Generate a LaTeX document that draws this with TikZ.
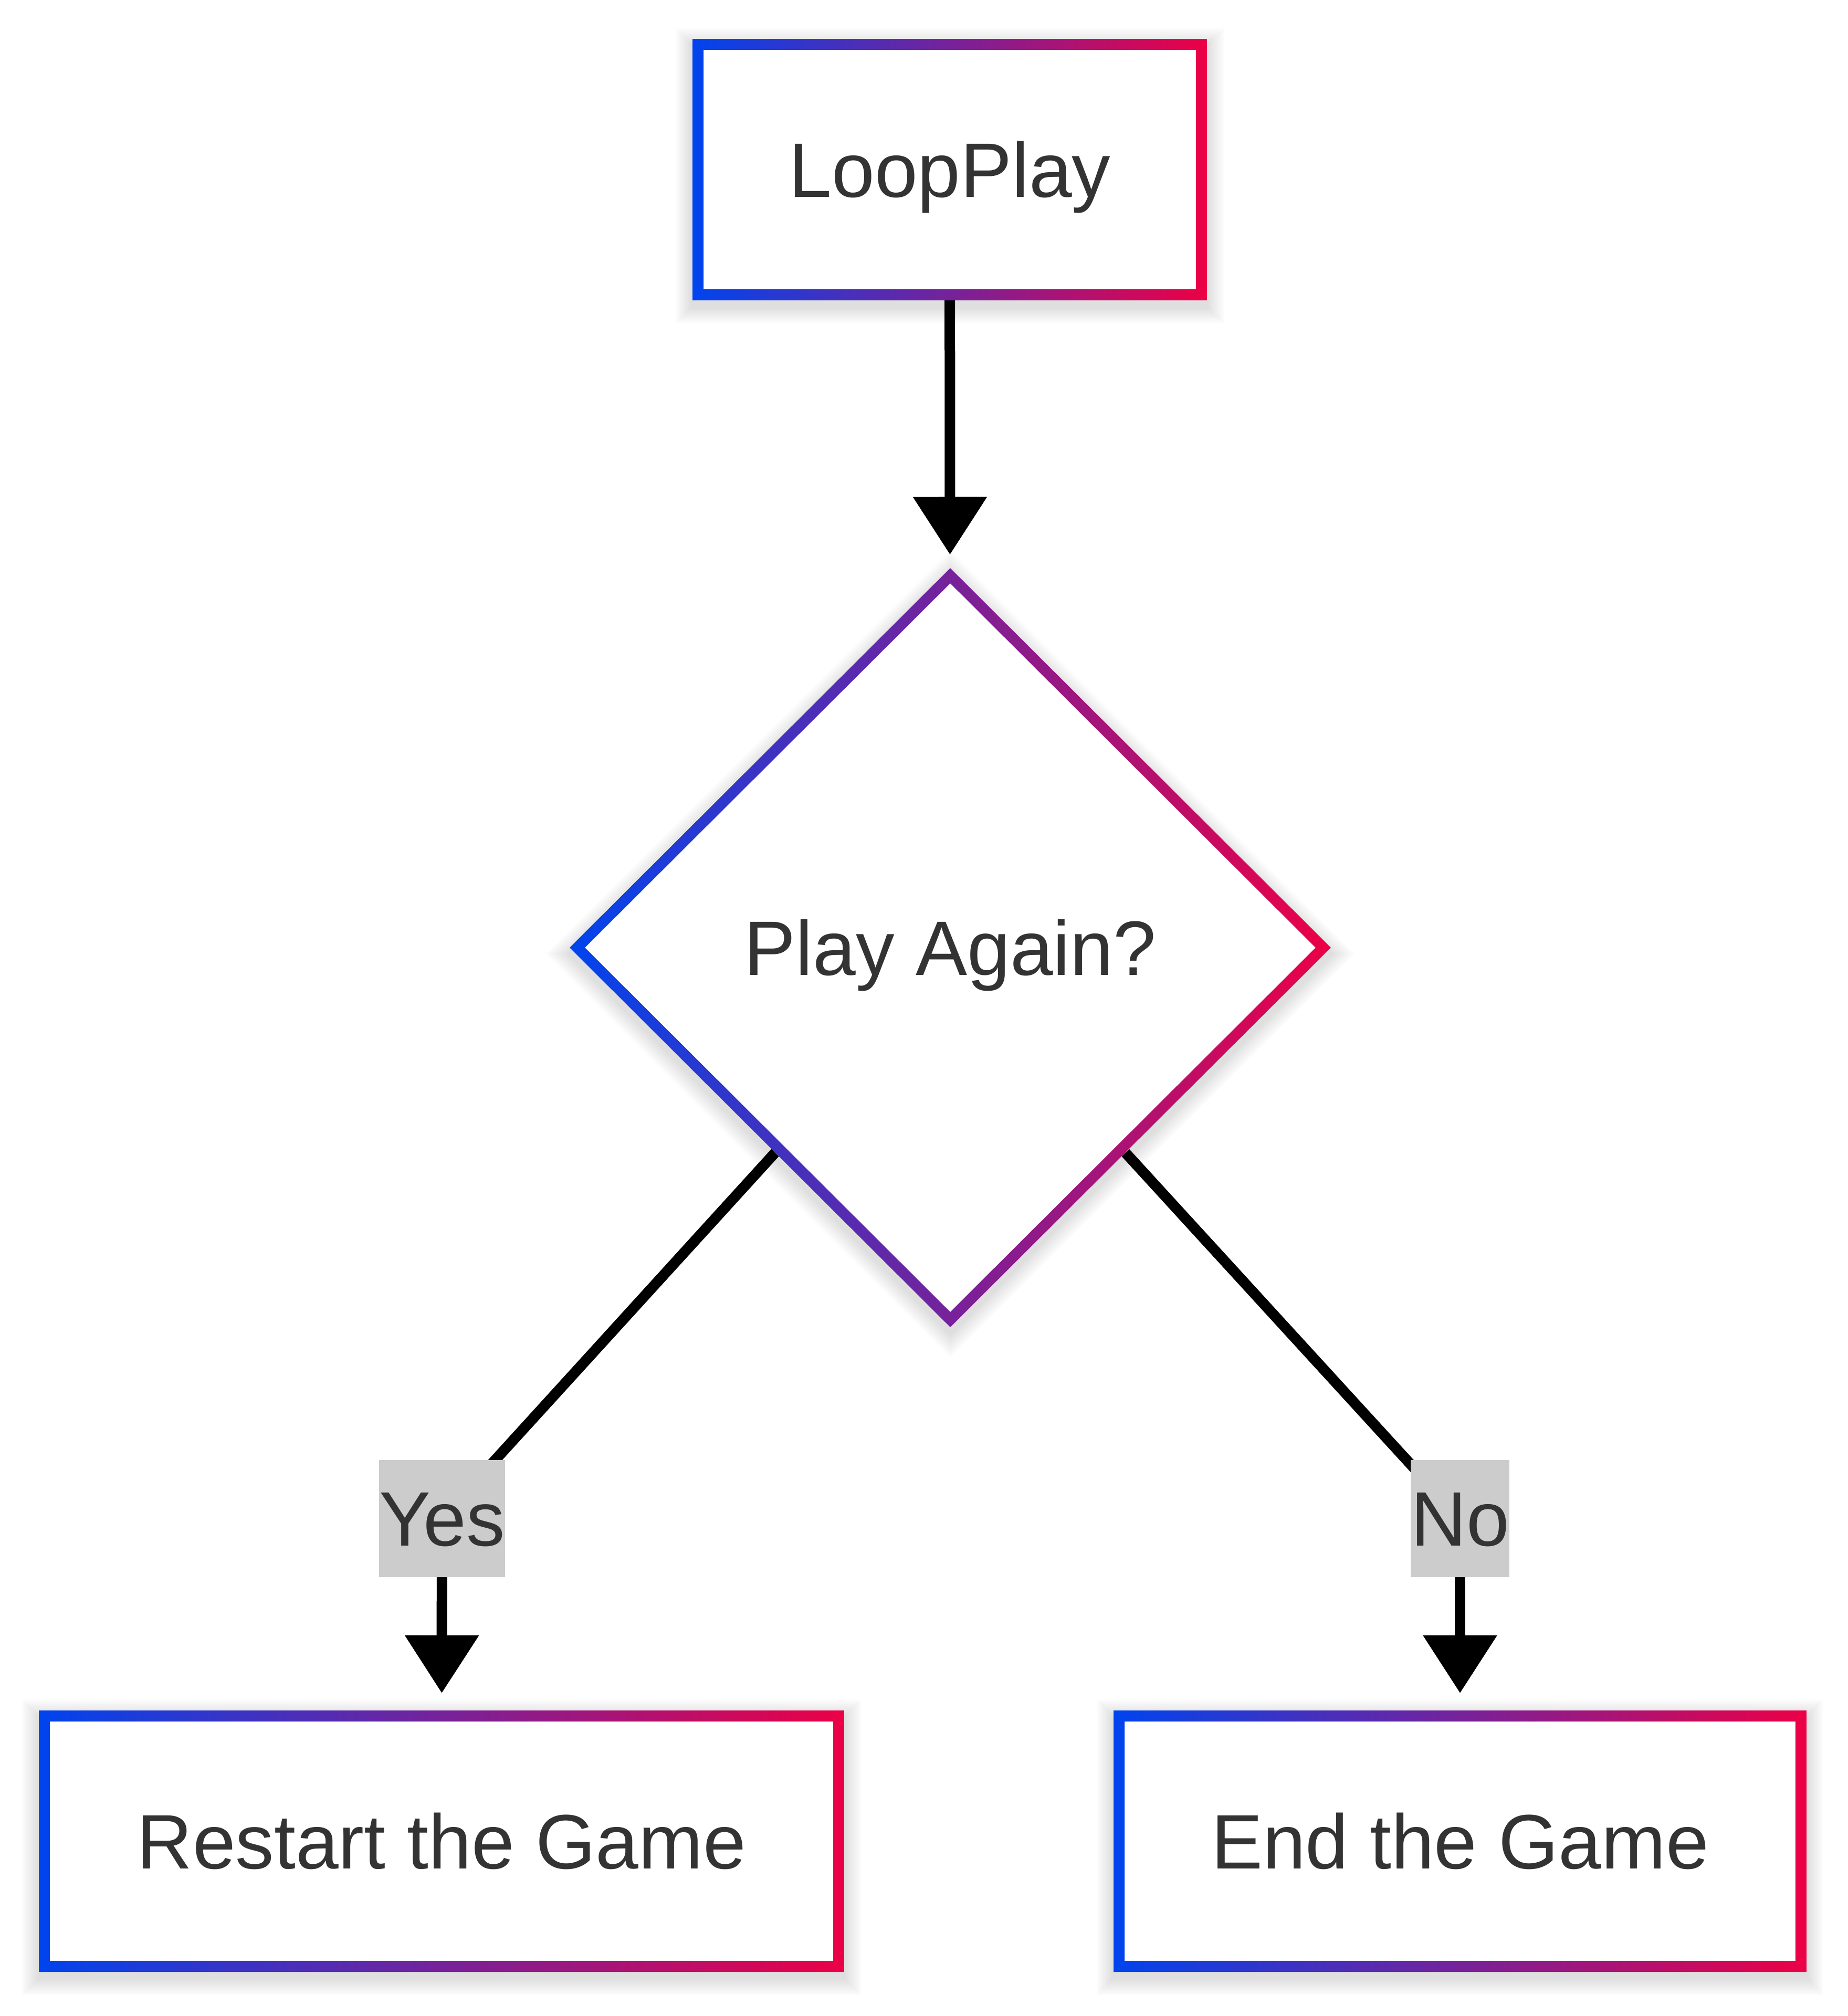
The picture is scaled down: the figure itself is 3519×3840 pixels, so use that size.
\documentclass[tikz,border=0pt]{standalone}
\usepackage{fontspec}
\setmainfont{Liberation Sans}
\usetikzlibrary{shapes.geometric,arrows.meta,calc}

\definecolor{gblue}{HTML}{0044EE}
\definecolor{gred}{HTML}{EC0046}
\definecolor{labelgray}{HTML}{CCCCCC}
\definecolor{textgray}{HTML}{333333}

\pgfdeclarelayer{shadow}
\pgfdeclarelayer{edges}
\pgfsetlayers{shadow,edges,main}

\tikzset{
	flowtext/.style={text=textgray, font=\fontsize{14.7}{17}\selectfont,
		text height=10.5pt, text depth=0pt, inner sep=0pt, outer sep=0pt},
	flowbox/.style={flowtext, rectangle, fill=white, minimum height=49.8pt},
	decision/.style={flowtext, diamond, fill=white, minimum width=145pt, minimum height=144.6pt},
	edgelabel/.style={flowtext, fill=labelgray, minimum height=22.3pt},
	flowline/.style={line width=2pt, -{Triangle[width=13.6pt,length=11pt]}},
	plainline/.style={line width=2pt},
	gradborder/.style={left color=gblue, right color=gred, even odd rule}
}

%% gradient frame of a box node
\newcommand{\gradframe}[1]{%
	\shade[gradborder] (#1.south west) rectangle (#1.north east)
		([shift={(2.1pt,2.1pt)}]#1.south west) rectangle ([shift={(-2.1pt,-2.1pt)}]#1.north east);}
%% soft shadow of a box node
\newcommand{\boxshadow}[1]{%
	\foreach \k in {1,...,8}{
		\fill[black, opacity=0.016] ([shift={(-\k*0.4pt,-\k*0.4pt-1.2pt)}]#1.south west)
			rectangle ([shift={(\k*0.4pt,\k*0.4pt-1.2pt)}]#1.north east);
	}}

\begin{document}
\begin{tikzpicture}[x=0.1pt,y=-0.1pt]
	\useasboundingbox (0,0) rectangle (3519,3840);

	%%the nodes
	\node[flowbox, minimum width=98pt] (loop) at (1809,323) {LoopPlay};
	\node[decision] (again) at (1810,1805) {Play Again?};
	\node[edgelabel] (yes) at (842,2892) {Yes};
	\node[edgelabel] (no) at (2781,2892) {No};
	\node[flowbox, minimum width=153.4pt] (restart) at (841,3507) {Restart the Game};
	\node[flowbox, minimum width=132pt] (endgame) at (2781,3507) {End the Game};

	%%the frames
	\gradframe{loop}
	\gradframe{restart}
	\gradframe{endgame}
	\shade[gradborder] (again.north) -- (again.east) -- (again.south) -- (again.west) -- cycle
		([yshift=-2.9pt]again.north) -- ([xshift=-2.9pt]again.east)
		-- ([yshift=2.9pt]again.south) -- ([xshift=2.9pt]again.west) -- cycle;

	%%the shadows
	\begin{pgfonlayer}{shadow}
		\boxshadow{loop}
		\boxshadow{restart}
		\boxshadow{endgame}
		\foreach \k in {1,...,8}{
			\fill[black, opacity=0.016] ([yshift=\k*0.56pt-1.2pt]again.north) -- ([xshift=\k*0.56pt,yshift=-1.2pt]again.east)
				-- ([yshift=-\k*0.56pt-1.2pt]again.south) -- ([xshift=-\k*0.56pt,yshift=-1.2pt]again.west) -- cycle;
		}
	\end{pgfonlayer}

	%%the connectors
	\begin{pgfonlayer}{edges}
		\draw[flowline, shorten >=2.6pt] (loop) -- (again);
		%yes route
		\draw[plainline] ($(again.west)!0.54!(again.south)$) -- (yes.center);
		\draw[flowline, shorten >=3.3pt] (yes.center) -- (restart);
		%no route
		\draw[plainline] ($(again.east)!0.54!(again.south)$) -- (no.center);
		\draw[flowline, shorten >=3.3pt] (no.center) -- (endgame);
	\end{pgfonlayer}
\end{tikzpicture}
\end{document}
